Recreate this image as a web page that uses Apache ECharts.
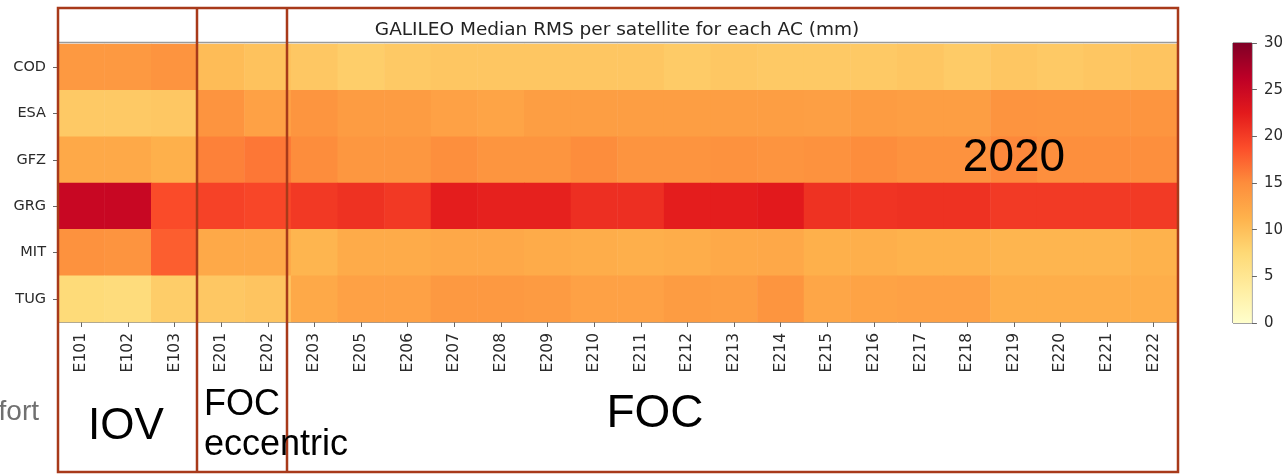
<!DOCTYPE html>
<html><head><meta charset="utf-8">
<script src="https://cdn.jsdelivr.net/npm/echarts@6/dist/echarts.min.js"></script>
<style>html,body{margin:0;padding:0;background:#fff}#chart{width:1286px;height:476px}</style>
</head><body><div id="chart"></div>
<script>
// Categories
const satellites = ['E101','E102','E103','E201','E202','E203','E205','E206','E207','E208','E209','E210','E211','E212','E213','E214','E215','E216','E217','E218','E219','E220','E221','E222'];
const centers = ['COD','ESA','GFZ','GRG','MIT','TUG'];

// Median RMS (mm) per satellite for each analysis centre
const COD = [13.8,13.8,14.3,10.3,9.7,9.2,8.6,9.0,9.3,9.3,9.3,9.3,9.3,8.8,9.2,9.0,9.0,9.0,9.3,8.8,9.3,9.0,9.3,9.5];
const ESA = [9.0,9.0,9.2,14.3,13.0,14.2,13.5,13.5,13.0,12.7,13.3,13.3,13.3,13.3,13.3,13.3,13.2,13.5,13.3,13.3,14.3,14.2,14.2,14.2];
const GFZ = [12.2,12.2,11.5,15.7,16.3,15.0,14.0,14.0,14.8,14.2,14.2,15.0,14.3,14.3,14.5,14.3,14.5,15.0,14.5,14.5,15.3,14.8,14.8,14.8];
const GRG = [25.2,25.2,19.0,19.6,19.3,20.3,20.8,20.3,22.3,22.0,22.0,21.0,21.0,22.3,22.3,22.6,20.8,20.6,20.8,20.8,20.2,20.2,20.2,20.2];
const MIT = [14.5,14.3,17.8,12.2,12.2,11.0,12.0,12.0,12.3,12.3,12.0,11.8,11.6,11.8,12.2,12.3,11.5,11.6,11.3,11.3,11.0,11.0,11.0,11.3];
const TUG = [7.2,7.0,8.7,9.2,9.5,12.2,13.0,13.0,13.8,13.8,13.6,13.0,13.0,13.5,13.3,14.2,12.5,12.8,13.0,13.0,11.7,11.7,11.7,11.7];

// Colour scale
const scaleMin = 0, scaleMax = 30, scaleStep = 5;
const ylOrRd = ['#ffffcc','#ffeda0','#fed976','#feb24c','#fd8d3c','#fc4e2a','#e31a1c','#bd0026','#800026'];

const rows = {COD, ESA, GFZ, GRG, MIT, TUG};
const heatData = [];
centers.forEach((ac, j) => rows[ac].forEach((v, i) => heatData.push([i, j, v])));

const chart = echarts.init(document.getElementById('chart'));
const boxColor = '#a83a1a';
const lab = {color:'#2a2a2a', fontFamily:'DejaVu Sans'};
chart.setOption({
  animation: false,
  title: {text:'GALILEO Median RMS per satellite for each AC (mm)', left:612, textAlign:'center', top:16,
    textStyle:{fontSize:18.5, fontWeight:'normal', color:'#222', fontFamily:'DejaVu Sans'}},
  grid: [
    {left:58, top:44, width:1119, height:278, show:false},
    {left:1233, top:43, width:23, height:280, show:true, borderColor:'#444', borderWidth:1, backgroundColor:'transparent'}
  ],
  xAxis: [
    {type:'category', gridIndex:0, data:satellites,
      axisLine:{show:true, lineStyle:{color:'#999'}},
      axisTick:{show:true, alignWithLabel:true, length:5, lineStyle:{color:'#666'}},
      axisLabel:Object.assign({rotate:90, interval:0, margin:11, fontSize:15.5}, lab),
      splitLine:{show:false}},
    {type:'category', gridIndex:1, data:['cb'], show:false}
  ],
  yAxis: [
    {type:'category', gridIndex:0, data:centers, inverse:true,
      axisLine:{show:false},
      axisTick:{show:true, alignWithLabel:true, length:5, lineStyle:{color:'#666'}},
      axisLabel:Object.assign({margin:12, fontSize:14.5}, lab)},
    {type:'value', gridIndex:1, position:'right', min:scaleMin, max:scaleMax, interval:scaleStep,
      axisLine:{show:false},
      axisTick:{show:true, length:5, lineStyle:{color:'#666'}},
      axisLabel:Object.assign({margin:12, fontSize:15}, lab),
      splitLine:{show:false}}
  ],
  visualMap: {show:false, type:'continuous', min:scaleMin, max:scaleMax, seriesIndex:0, inRange:{color:ylOrRd}},
  series: [
    {type:'heatmap', xAxisIndex:0, yAxisIndex:0, data:heatData, itemStyle:{borderWidth:0}, emphasis:{disabled:true}},
    {type:'bar', xAxisIndex:1, yAxisIndex:1, data:[scaleMax], barWidth:'100%', silent:true,
      itemStyle:{color:new echarts.graphic.LinearGradient(0,1,0,0, ylOrRd.map((c,i)=>({offset:i/(ylOrRd.length-1), color:c})))}}
  ],
  graphic: [
    {type:'line', shape:{x1:58,y1:42.5,x2:1177,y2:42.5}, style:{stroke:'#9a9a9a', lineWidth:1.5}, z:50},
    {type:'rect', shape:{x:58,y:8,width:1120,height:464}, style:{fill:'none', stroke:boxColor, lineWidth:2.5}, z:100},
    {type:'line', shape:{x1:197,y1:8,x2:197,y2:472}, style:{stroke:boxColor, lineWidth:2.5}, z:100},
    {type:'line', shape:{x1:287,y1:8,x2:287,y2:472}, style:{stroke:boxColor, lineWidth:2.5}, z:100},
    {type:'text', x:126, y:427, style:{text:'IOV', font:'44px "Liberation Sans"', fill:'#000', align:'center', verticalAlign:'middle'}, z:110},
    {type:'text', x:204, y:405, style:{text:'FOC', font:'36px "Liberation Sans"', fill:'#000', align:'left', verticalAlign:'middle'}, z:110},
    {type:'text', x:204, y:445, style:{text:'eccentric', font:'36px "Liberation Sans"', fill:'#000', align:'left', verticalAlign:'middle'}, z:110},
    {type:'text', x:655, y:414, style:{text:'FOC', font:'46px "Liberation Sans"', fill:'#000', align:'center', verticalAlign:'middle'}, z:110},
    {type:'text', x:1014, y:158, style:{text:'2020', font:'46px "Liberation Sans"', fill:'#000', align:'center', verticalAlign:'middle'}, z:110},
    {type:'text', x:39, y:412, style:{text:'fort', font:'28px "Liberation Sans"', fill:'#707070', align:'right', verticalAlign:'middle'}, z:110}
  ]
});
</script></body></html>
